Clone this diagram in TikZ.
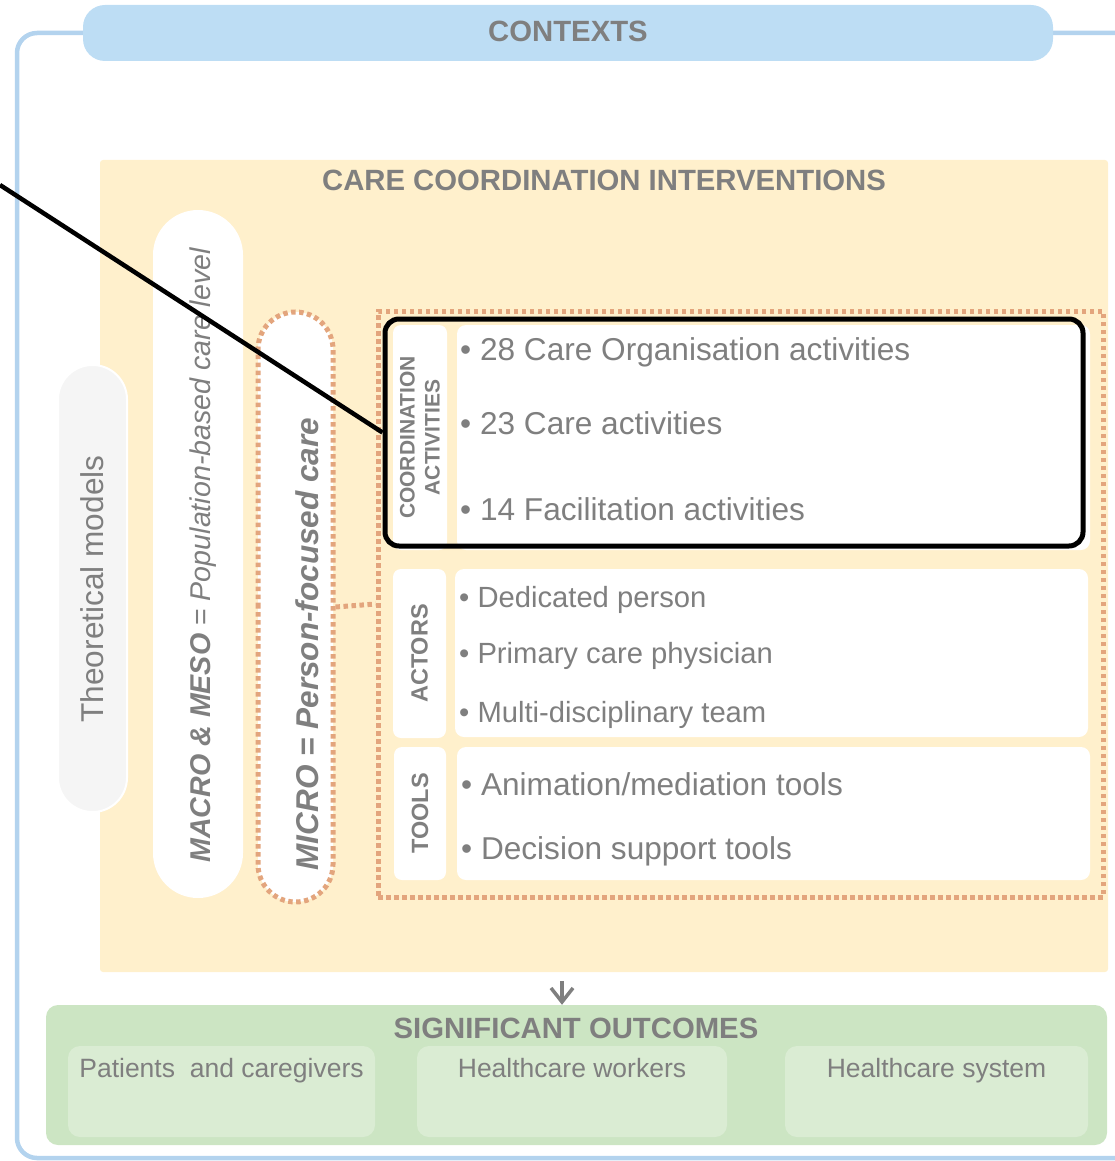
\documentclass[tikz,border=0pt]{standalone}
\usepackage{fontspec}
\setmainfont{Liberation Sans}
\usetikzlibrary{shapes.misc,arrows.meta}

\definecolor{ctxblue}{HTML}{BDDDF4}
\definecolor{ctxline}{HTML}{B3D3EE}
\definecolor{ccibg}{HTML}{FFF0CC}
\definecolor{txtgray}{HTML}{7F7F7F}
\definecolor{dotorange}{HTML}{E3A57D}
\definecolor{modelgray}{HTML}{F5F5F5}
\definecolor{outgreen}{HTML}{CCE5C3}
\definecolor{outlight}{HTML}{DAECD3}

\newcommand{\fsize}[1]{\fontsize{#1}{#1}\selectfont}

\tikzset{
  title/.style={font=\fsize{29.3}\bfseries, text=txtgray, anchor=base, inner sep=0pt},
  pill/.style={rounded rectangle, inner sep=0pt, rotate=90},
  vlabel/.style={text=txtgray, rotate=90, anchor=base, inner sep=0pt},
  panel/.style={rectangle, rounded corners=9pt, fill=white, inner sep=0pt},
  tag/.style={panel, rotate=90, rounded corners=8pt, font=\fsize{23.5}\bfseries,
    text=txtgray},
  item/.style={font=\fsize{31.6}, text=txtgray, anchor=base west, inner sep=0pt},
  outbox/.style={rectangle, rounded corners=12pt, fill=outlight, inner sep=0pt,
    minimum height=91pt},
  outtext/.style={font=\fsize{26.5}, text=txtgray, anchor=base, inner sep=0pt},
  dots/.style={draw=dotorange, line width=5pt, dash pattern=on 4.5pt off 3.5pt},
}

\begin{document}
\begin{tikzpicture}[x=1pt,y=-1pt]
  \useasboundingbox (0,0) rectangle (1115,1161);

  % Contexts
  \coordinate (ctxNE) at (1115,33);
  \coordinate (ctxSE) at (1115,1158);
  \draw[ctxline, line width=4.5pt, rounded corners=20pt]
    (ctxNE) -| (17,1158) -- (ctxSE);
  \node[fill=ctxblue, rounded corners=22pt, inner sep=0pt,
    minimum width=970pt, minimum height=56pt] (contexts) at (568,33) {};
  \node[title] (contextsLabel) at (568,41.5) {CONTEXTS};

  % Care coordination interventions
  \node[fill=ccibg, rounded corners=3pt, inner sep=0pt,
    minimum width=1008pt, minimum height=812pt] (cci) at (604,566) {};
  \node[title] (cciLabel) at (604,190.5) {CARE COORDINATION INTERVENTIONS};

  % Levels
  \node[pill, fill=modelgray, draw=white, line width=2pt,
    minimum width=447pt, minimum height=69pt] (models) at (92.5,588.5) {};
  \node[vlabel, font=\fsize{31.6}] (modelsLabel) at (103,589) {Theoretical models};

  \node[pill, fill=white, minimum width=688pt, minimum height=90pt]
    (macro) at (198,554) {};
  \node[vlabel, font=\fsize{28.6}] (macroLabel) at (210,555)
    {\textbf{\textit{MACRO \& MESO}} = \textit{Population-based care level}};

  \node[pill, fill=white, dots, minimum width=590pt, minimum height=75pt]
    (micro) at (295.5,607) {};
  \node[vlabel, font=\fsize{31.5}\bfseries\itshape] (microLabel) at (318,644)
    {MICRO = Person-focused care};

  % Micro level content
  \node[dots, inner sep=0pt, minimum width=725pt, minimum height=586pt]
    (microFrame) at (740.5,604) {};
  \draw[dots] (micro.south) -- (microFrame.west);

  \node[tag, minimum width=225pt, minimum height=54pt, align=center,
    font=\fsize{21}\bfseries, execute at begin node={\baselineskip=25pt}]
    (coordTag) at (420,437.5) {COORDINATION\\ACTIVITIES};
  \node[panel, minimum width=633pt, minimum height=225pt]
    (coordBox) at (773.5,437.5) {};
  \node[item] (coord1) at (460,360) {\textbullet\ 28 Care Organisation activities};
  \node[item] (coord2) at (460,434) {\textbullet\ 23 Care activities};
  \node[item] (coord3) at (460,520) {\textbullet\ 14 Facilitation activities};

  \node[tag, minimum width=169pt, minimum height=53pt]
    (actorsTag) at (419.5,653.5) {ACTORS};
  \node[panel, minimum width=633pt, minimum height=168pt]
    (actorsBox) at (771.5,653) {};
  \node[item, font=\fsize{29.2}] (actor1) at (459,607.5) {\textbullet\ Dedicated person};
  \node[item, font=\fsize{29.2}] (actor2) at (459,663.5) {\textbullet\ Primary care physician};
  \node[item, font=\fsize{29.2}] (actor3) at (459,722.5) {\textbullet\ Multi-disciplinary team};

  \node[tag, minimum width=133pt, minimum height=52pt]
    (toolsTag) at (420,813.5) {TOOLS};
  \node[panel, minimum width=633pt, minimum height=133pt]
    (toolsBox) at (773.5,813.5) {};
  \node[item] (tool1) at (461,795) {\textbullet\ Animation/mediation tools};
  \node[item] (tool2) at (461,859) {\textbullet\ Decision support tools};

  % Highlight
  \node[draw=black, line width=5pt, rounded corners=14pt, inner sep=0pt,
    minimum width=698pt, minimum height=227pt] (coordFrame) at (734,432.5) {};
  \coordinate (pointer) at (0,185);
  \draw[line width=4.5pt] (pointer) -- (coordFrame.west);

  % Significant outcomes
  \node[fill=outgreen, rounded corners=12pt, inner sep=0pt,
    minimum width=1061pt, minimum height=140pt] (outcomes) at (576.5,1075) {};
  \node[title] (outcomesLabel) at (576,1038.5) {SIGNIFICANT OUTCOMES};
  \node[outbox, minimum width=307pt] (patients) at (221.5,1091.5) {};
  \node[outbox, minimum width=310pt] (workers) at (572,1091.5) {};
  \node[outbox, minimum width=303pt] (system) at (936.5,1091.5) {};
  \node[outtext] (patientsLabel) at (221.5,1077.5) {Patients\ \ and caregivers};
  \node[outtext] (workersLabel) at (572,1077.5) {Healthcare workers};
  \node[outtext] (systemLabel) at (936.5,1077.5) {Healthcare system};

  \coordinate (arrowTop) at (562,981);
  \draw[txtgray, line width=3.5pt,
    -{Straight Barb[length=14pt,width=22pt,line width=3.5pt]}]
    (arrowTop) -- (arrowTop |- outcomes.north);
\end{tikzpicture}
\end{document}
